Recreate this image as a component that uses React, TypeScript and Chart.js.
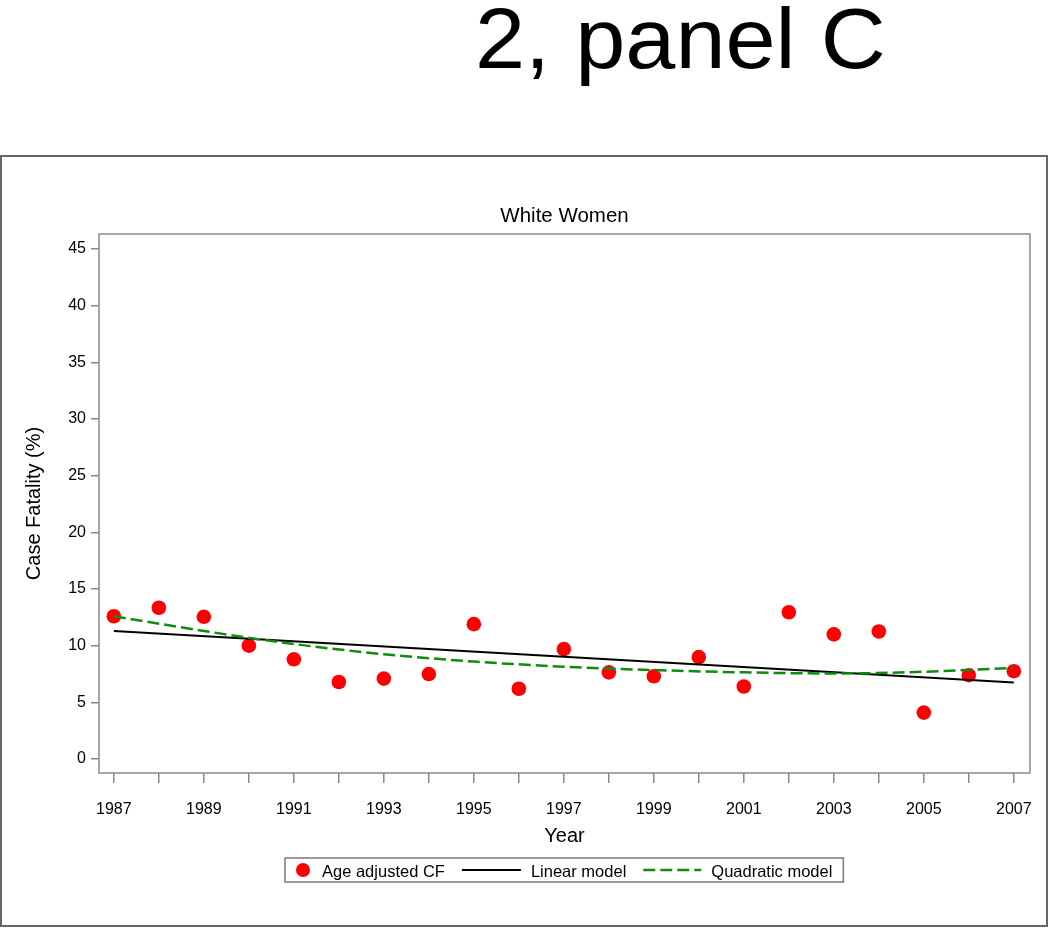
import React, { useEffect, useRef } from "react";
import { Chart, registerables } from "chart.js";

Chart.register(...registerables);

// ---------- data ----------
const years = [1987, 1988, 1989, 1990, 1991, 1992, 1993, 1994, 1995, 1996, 1997, 1998, 1999, 2000, 2001, 2002, 2003, 2004, 2005, 2006, 2007];
const ageAdjustedCF = [12.6, 13.35, 12.55, 10.0, 8.8, 6.8, 7.1, 7.5, 11.9, 6.2, 9.7, 7.65, 7.3, 9.0, 6.4, 12.95, 11.0, 11.25, 4.1, 7.4, 7.75];
const linearYears = [1987, 2007];
const linearModel = [11.3, 6.75];
const quadraticYears = [1987, 1989, 1991, 1993, 1995, 1997, 1999, 2001, 2003, 2005, 2007];
const quadraticModel = [12.6, 11.3, 10.15, 9.25, 8.6, 8.15, 7.85, 7.65, 7.55, 7.7, 8.05];
const yTickValues = [0, 5, 10, 15, 20, 25, 30, 35, 40, 45];
const xLabelYears = [1987, 1989, 1991, 1993, 1995, 1997, 1999, 2001, 2003, 2005, 2007];

const chartTitle = "White Women";
const xTitle = "Year";
const yTitle = "Case Fatality (%)";
const headerText = "2, panel C";

const FONT = "'Liberation Sans', Arial, Helvetica, sans-serif";

const decorPlugin = {
  id: "decor",
  beforeDraw(chart: any) {
    const ctx = chart.ctx;
    ctx.save();
    ctx.strokeStyle = "#666666";
    ctx.lineWidth = 2;
    ctx.strokeRect(1, 1, chart.width - 4, chart.height - 3);
    ctx.restore();
  },
  beforeDatasetsDraw(chart: any) {
    const { ctx, chartArea } = chart;
    ctx.save();
    ctx.strokeStyle = "#8a8a8a";
    ctx.lineWidth = 1.5;
    ctx.strokeRect(chartArea.left, chartArea.top, chartArea.right - chartArea.left, chartArea.bottom - chartArea.top);
    ctx.restore();
  },
  afterDraw(chart: any) {
    const { ctx, chartArea } = chart;
    const cx = (chartArea.left + chartArea.right) / 2;
    ctx.save();
    // chart title
    ctx.fillStyle = "#000";
    ctx.font = `20.5px ${FONT}`;
    ctx.textAlign = "center";
    ctx.textBaseline = "alphabetic";
    ctx.fillText(chartTitle, cx, 66.7);

    // legend
    const ds = chart.data.datasets;
    ctx.font = `16.5px ${FONT}`;
    ctx.textAlign = "left";
    const items = [
      { label: ds[0].label, kind: "dot", w: 14, gap: 12, color: ds[0].backgroundColor, dash: [] as number[], lw: 0 },
      { label: ds[1].label, kind: "line", w: 59, gap: 10, color: ds[1].borderColor, dash: ds[1].borderDash || [], lw: ds[1].borderWidth },
      { label: ds[2].label, kind: "line", w: 58, gap: 10, color: ds[2].borderColor, dash: ds[2].borderDash || [], lw: ds[2].borderWidth },
    ];
    const sidePad = 11;
    const itemGap = 17;
    let total = sidePad * 2;
    items.forEach((it, i) => {
      total += it.w + it.gap + ctx.measureText(it.label).width + (i < items.length - 1 ? itemGap : 0);
    });
    const boxLeft = Math.round(cx - total / 2);
    const boxTop = 703;
    const boxH = 24;
    const midY = boxTop + boxH / 2;
    ctx.strokeStyle = "#7a7a7a";
    ctx.lineWidth = 1.5;
    ctx.strokeRect(boxLeft, boxTop, total, boxH);
    let x = boxLeft + sidePad;
    items.forEach((it, i) => {
      if (it.kind === "dot") {
        ctx.fillStyle = it.color;
        ctx.beginPath();
        ctx.arc(x + it.w / 2, midY, 7, 0, Math.PI * 2);
        ctx.fill();
      } else {
        ctx.strokeStyle = it.color;
        ctx.lineWidth = it.lw;
        ctx.setLineDash(it.dash);
        ctx.beginPath();
        ctx.moveTo(x, midY);
        ctx.lineTo(x + it.w, midY);
        ctx.stroke();
        ctx.setLineDash([]);
      }
      x += it.w + it.gap;
      ctx.fillStyle = "#000";
      ctx.fillText(it.label, x, midY + 6.7);
      x += ctx.measureText(it.label).width + (i < items.length - 1 ? itemGap : 0);
    });
    ctx.restore();
  },
};

export default function App() {
  const canvasRef = useRef<HTMLCanvasElement | null>(null);

  useEffect(() => {
    if (!canvasRef.current) return;
    Chart.defaults.font.family = FONT;
    const chart = new Chart(canvasRef.current, {
      type: "scatter",
      data: {
        datasets: [
          {
            label: "Age adjusted CF",
            data: years.map((y, i) => ({ x: y, y: ageAdjustedCF[i] })),
            backgroundColor: "#ff0000",
            borderColor: "#ff0000",
            pointRadius: 7.3,
            pointBorderWidth: 0,
            showLine: false,
            order: 2,
          },
          {
            type: "line",
            label: "Linear model",
            data: linearYears.map((y, i) => ({ x: y, y: linearModel[i] })),
            borderColor: "#000000",
            backgroundColor: "#000000",
            borderWidth: 2,
            pointRadius: 0,
            showLine: true,
            fill: false,
            order: 1,
          },
          {
            type: "line",
            label: "Quadratic model",
            data: quadraticYears.map((y, i) => ({ x: y, y: quadraticModel[i] })),
            borderColor: "#128a12",
            backgroundColor: "#128a12",
            borderWidth: 2.5,
            borderDash: [12, 5],
            pointRadius: 0,
            showLine: true,
            fill: false,
            cubicInterpolationMode: "monotone",
            order: 0,
          },
        ] as any,
      },
      options: {
        animation: false,
        responsive: false,
        devicePixelRatio: 1,
        layout: { padding: { left: 0, right: 20, top: 79, bottom: 73 } },
        plugins: {
          legend: { display: false },
          tooltip: { enabled: false },
          title: { display: false },
        },
        scales: {
          x: {
            type: "linear",
            min: 1986.67,
            max: 2007.36,
            afterBuildTicks: (axis: any) => {
              axis.ticks = years.map((v) => ({ value: v }));
            },
            afterFit: (s: any) => {
              s.height = 82;
            },
            ticks: {
              autoSkip: false,
              maxRotation: 0,
              minRotation: 0,
              padding: 17,
              color: "#000",
              font: { size: 16 },
              callback: (v: any) => (xLabelYears.includes(Number(v)) ? String(v) : ""),
            },
            grid: { drawOnChartArea: false, drawTicks: true, tickLength: 10, color: "#8a8a8a", lineWidth: 1.5 },
            border: { display: false },
            title: { display: true, text: xTitle, color: "#000", font: { size: 20 }, padding: { top: 4, bottom: 7 } },
          },
          y: {
            type: "linear",
            min: -1.23,
            max: 46.32,
            afterBuildTicks: (axis: any) => {
              axis.ticks = yTickValues.map((v) => ({ value: v }));
            },
            afterFit: (s: any) => {
              s.width = 99;
            },
            ticks: {
              padding: 5,
              color: "#000",
              font: { size: 16 },
              callback: (v: any) => String(v),
            },
            grid: { drawOnChartArea: false, drawTicks: true, tickLength: 8, color: "#8a8a8a", lineWidth: 1.5 },
            border: { display: false },
            title: { display: true, text: yTitle, color: "#000", font: { size: 20 }, padding: { top: 22, bottom: 0 } },
          },
        },
      } as any,
      plugins: [decorPlugin],
    });
    return () => chart.destroy();
  }, []);

  return (
    <div style={{ position: "absolute", left: 0, top: 0, width: 1050, height: 928, background: "#fff", overflow: "hidden" }}>
      <div
        style={{
          position: "absolute",
          left: 475,
          top: -4,
          fontFamily: FONT,
          fontSize: 85,
          lineHeight: "85px",
          color: "#000",
          whiteSpace: "nowrap",
          transform: "scaleX(1.06)",
          transformOrigin: "left top",
        }}
      >
        {headerText}
      </div>
      <canvas
        ref={canvasRef}
        width={1050}
        height={773}
        style={{ position: "absolute", left: 0, top: 155, width: 1050, height: 773 }}
      />
    </div>
  );
}
